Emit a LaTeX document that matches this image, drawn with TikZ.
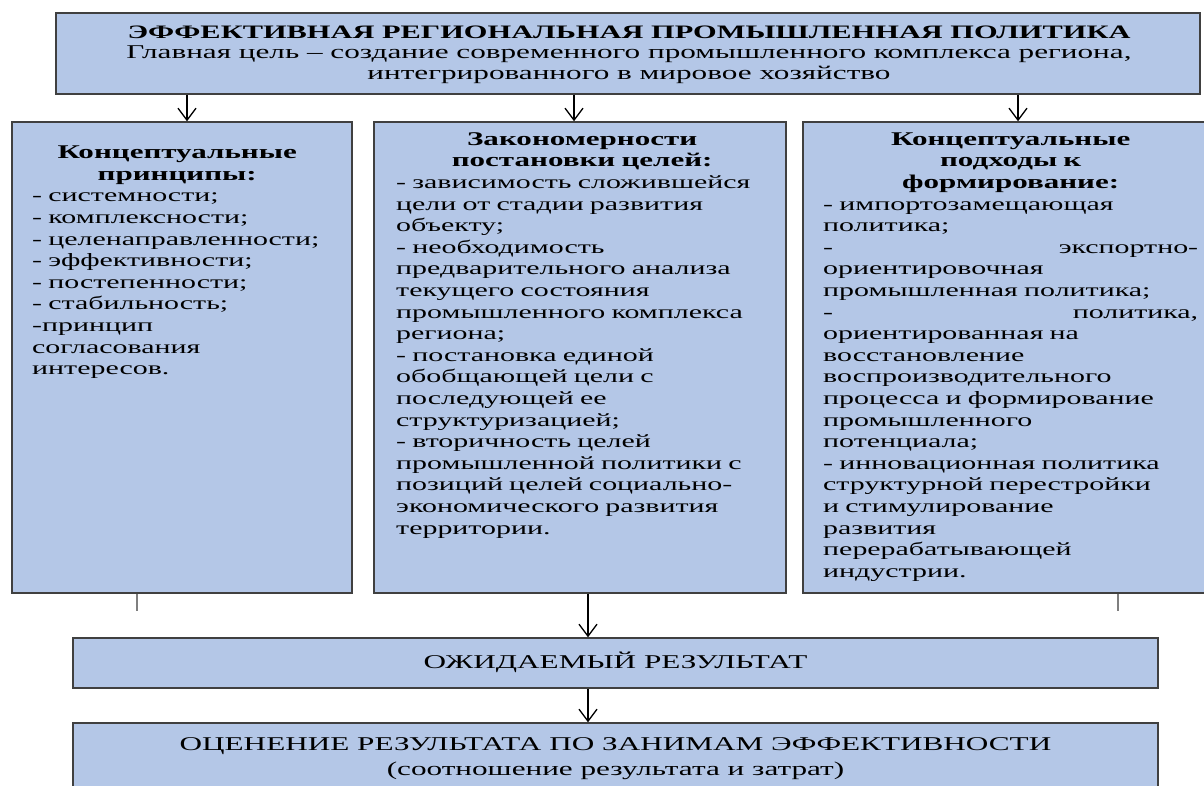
\documentclass[tikz,border=0pt]{standalone}
\usepackage{fontspec}
\setmainfont{Liberation Serif}[FakeStretch=1.6]
\usetikzlibrary{arrows.meta}
\definecolor{boxfill}{HTML}{B4C7E7}
\definecolor{boxline}{HTML}{404040}
\definecolor{stubline}{HTML}{7F7F7F}
\tikzset{
 box/.style={draw=boxline, fill=boxfill, line width=1.5pt, rectangle, inner sep=0pt},
 coltxt/.style={inner sep=0pt, anchor=north west, align=left, font=\fontsize{18.7}{21.6}\selectfont},
 arr/.style={draw=black, line width=1.3pt, -{Straight Barb[length=12pt,width=18pt,line width=1.3pt]}},
 stub/.style={draw=stubline, line width=2pt},
}
\newcommand{\fst}{\rule{0pt}{15pt}}
\newcommand{\spreadfill}{\hskip 0pt plus 1filll\relax}
\newcommand{\headfont}{\fontsize{19.4}{21.6}\selectfont\bfseries}
\begin{document}
\begin{tikzpicture}[x=1pt,y=-1pt]
\clip (0,0) rectangle (1204,785);
\fill[white] (0,0) rectangle (1204,785);
% boxes
\node[box, minimum width=1144pt, minimum height=81pt] (top) at (628,53.5) {};
\node[box, minimum width=340pt, minimum height=471pt] (c1) at (182,357.5) {};
\node[box, minimum width=412pt, minimum height=471pt] (c2) at (580,357.5) {};
\node[box, minimum width=429pt, minimum height=471pt] (c3) at (1017.5,357.5) {};
\node[box, minimum width=1085pt, minimum height=50pt] (res) at (615.5,663) {};
\node[box, minimum width=1085pt, minimum height=87pt] (assess) at (615.5,766.5) {};
% texts
\node[inner sep=0pt, anchor=north, align=center, font=\fontsize{19.5}{20.5}\selectfont] (toptxt) at (629,23)
 {\fst{\fontsize{19}{20.5}\selectfont\bfseries ЭФФЕКТИВНАЯ РЕГИОНАЛЬНАЯ ПРОМЫШЛЕННАЯ ПОЛИТИКА}\\
  Главная цель – создание современного промышленного комплекса региона,\\
  интегрированного в мировое хозяйство};
\node[coltxt, text width=290pt] (t1) at (32,143.5)
 {\begingroup\centering\headfont\fst Концептуальные\\ принципы:\par\endgroup
  - системности;\\
  - комплексности;\\
  - целенаправленности;\\
  - эффективности;\\
  - постепенности;\\
  - стабильность;\\
  -принцип\\
  согласования\\
  интересов.};
\node[coltxt, text width=372pt] (t2) at (396,130)
 {\begingroup\centering\headfont\fst Закономерности\\ постановки целей:\par\endgroup
  - зависимость сложившейся\\
  цели от стадии развития\\
  объекту;\\
  - необходимость\\
  предварительного анализа\\
  текущего состояния\\
  промышленного комплекса\\
  региона;\\
  - постановка единой\\
  обобщающей цели с\\
  последующей ее\\
  структуризацией;\\
  - вторичность целей\\
  промышленной политики с\\
  позиций целей социально-\\
  экономического развития\\
  территории.};
\node[coltxt, text width=375pt] (t3) at (823,130)
 {\begingroup\centering\headfont\fst Концептуальные\\ подходы к\\ формирование:\par\endgroup
  - импортозамещающая\\
  политика;\\
  -\spreadfill экспортно-\\
  ориентировочная\\
  промышленная политика;\\
  -\spreadfill политика,\\
  ориентированная на\\
  восстановление\\
  воспроизводительного\\
  процесса и формирование\\
  промышленного\\
  потенциала;\\
  - инновационная политика\\
  структурной перестройки\\
  и стимулирование\\
  развития\\
  перерабатывающей\\
  индустрии.};
\node[inner sep=0pt, anchor=base, font=\fontsize{19.5}{20}\selectfont] (restxt) at (615.5,668) {ОЖИДАЕМЫЙ РЕЗУЛЬТАТ};
\node[inner sep=0pt, anchor=north, align=center, font=\fontsize{19.5}{25}\selectfont] (assesstxt) at (615.5,735)
 {\fst ОЦЕНЕНИЕ РЕЗУЛЬТАТА ПО ЗАНИМАМ ЭФФЕКТИВНОСТИ\\ (соотношение результата и затрат)};
% connectors
\coordinate (a1) at (187,0);
\coordinate (a2) at (574,0);
\coordinate (a3) at (1018,0);
\coordinate (a4) at (588,0);
\coordinate (s1) at (137,611);
\coordinate (s3) at (1118,611);
\draw[arr] (top.south -| a1) -- (c1.north -| a1);
\draw[arr] (top.south -| a2) -- (c2.north -| a2);
\draw[arr] (top.south -| a3) -- (c3.north -| a3);
\draw[arr] (c2.south -| a4) -- (res.north -| a4);
\draw[arr] (res.south -| a4) -- (assess.north -| a4);
\draw[stub] (c1.south -| s1) -- (s1);
\draw[stub] (c3.south -| s3) -- (s3);
\end{tikzpicture}
\end{document}
